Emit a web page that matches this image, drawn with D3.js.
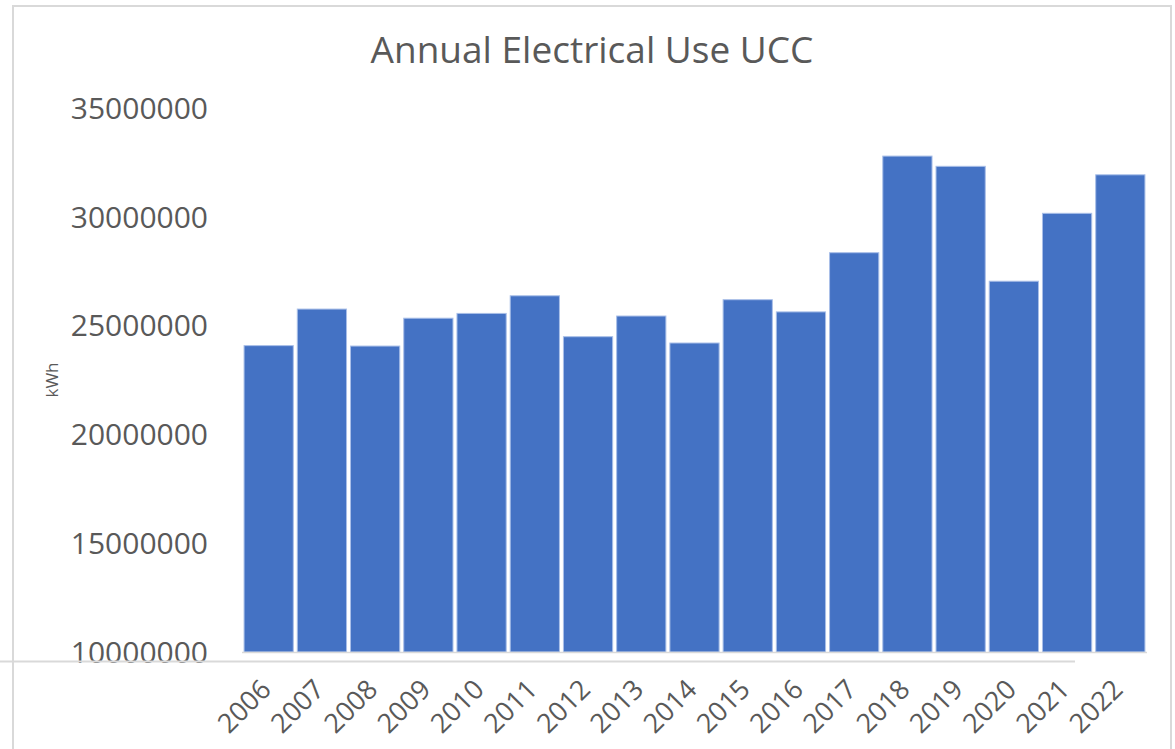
<!DOCTYPE html>
<html><head><meta charset="utf-8">
<script src="https://cdn.jsdelivr.net/npm/d3@7"></script>
<style>body{margin:0;background:#fff;} text{font-family:"Open Sans",sans-serif;fill:#595959;}</style>
</head><body>
<svg id="c" width="1175" height="749"></svg>
<script>
const years = ["2006","2007","2008","2009","2010","2011","2012","2013","2014","2015","2016","2017","2018","2019","2020","2021","2022"];
const usage = [24080000,25760000,24060000,25340000,25560000,26370000,24490000,25440000,24200000,26190000,25630000,28350000,32790000,32320000,27040000,30160000,31930000];
const yTicks = [10000000,15000000,20000000,25000000,30000000,35000000];
const title = "Annual Electrical Use UCC";
const yLabel = "kWh";

const svg = d3.select("#c");
const x = d3.scaleBand().domain(years).range([243,1146]).paddingInner(0.075).paddingOuter(0.02);
const y = d3.scaleLinear().domain([10000000,35000000]).range([652,108]);

// outer border
svg.append("path").attr("d","M13,749 L13,6 L1171,6 L1171,749").attr("fill","none").attr("stroke","#d9d9d9").attr("stroke-width",2);

svg.append("text").attr("x",592).attr("y",63).attr("text-anchor","middle").attr("font-size",37).text(title);

svg.append("g").selectAll("text").data(yTicks).join("text")
  .attr("x",208).attr("y",d=>y(d)).attr("dy","0.36em").attr("text-anchor","end").attr("font-size",30)
  .text(d=>d3.format("d")(d));

svg.append("text").attr("transform","translate(58,380) rotate(-90)").attr("text-anchor","middle").attr("font-size",17).text(yLabel);

svg.append("g").selectAll("rect").data(years).join("rect")
  .attr("x",d=>x(d)).attr("width",x.bandwidth())
  .attr("y",(d,i)=>y(usage[i])).attr("height",(d,i)=>y(10000000)-y(usage[i]))
  .attr("fill","#4472C4").attr("stroke","#a9bfe8").attr("stroke-width",1);

svg.append("line").attr("x1",242).attr("x2",1147).attr("y1",652.5).attr("y2",652.5).attr("stroke","#d9d9d9").attr("stroke-width",1.5);

svg.append("g").selectAll("text").data(years).join("text")
  .attr("transform",d=>`translate(${x(d)+x.bandwidth()/2+4},691) rotate(-45)`)
  .attr("text-anchor","end").attr("font-size",27).text(d=>d);

svg.append("line").attr("x1",0).attr("x2",1075).attr("y1",661.5).attr("y2",661.5).attr("stroke","#d9d9d9").attr("stroke-width",2);
</script>
</body></html>
